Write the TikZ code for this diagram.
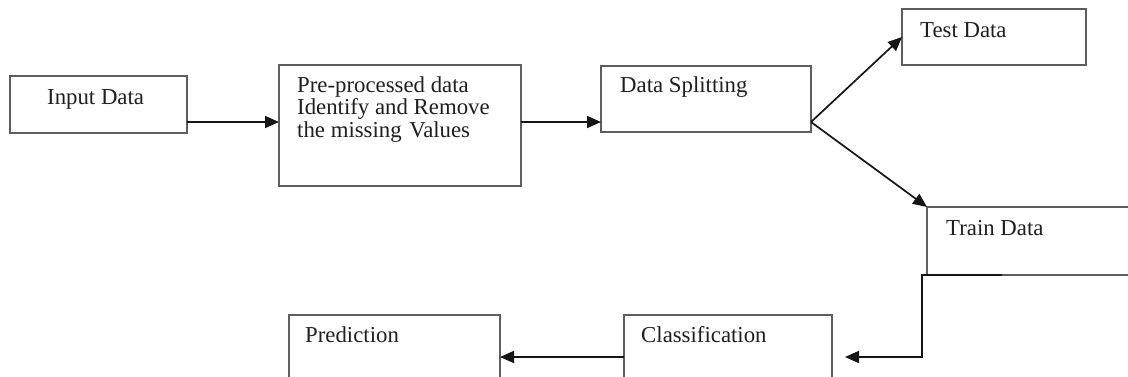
\documentclass[tikz,border=0pt]{standalone}
\usepackage{fontspec}
\setmainfont{Liberation Serif}
\usetikzlibrary{arrows.meta,calc}
\definecolor{boxgray}{HTML}{5E5E5E}
\definecolor{arrowblack}{HTML}{151515}
\begin{document}
\begin{tikzpicture}[x=1pt,y=-1pt,
  box/.style={draw=boxgray, line width=1.4pt, rectangle, inner sep=0pt, outer sep=0pt, anchor=north west},
  txt/.style={inner sep=0pt, font=\fontsize{22.8}{22.6}\selectfont, align=left, text=black!88},
  arr/.style={draw=arrowblack, line width=1.7pt, -{Triangle[length=14pt,width=12pt]}}]
\useasboundingbox (0,0) rectangle (1128,376);
\fill[white] (0,0) rectangle (1128,376);
\clip (0,0) rectangle (1128,376);
% boxes
\node[box, minimum width=177pt, minimum height=57pt] (input) at (10,76) {};
\node[box, minimum width=242pt, minimum height=121pt] (pre) at (279,65) {};
\node[box, minimum width=210pt, minimum height=66pt] (ds) at (601,66) {};
\node[box, minimum width=184pt, minimum height=56pt] (test) at (902,9) {};
\node[box, minimum width=230pt, minimum height=68pt] (train) at (927,207) {};
\node[box, minimum width=208pt, minimum height=80pt] (cls) at (624,315) {};
\node[box, minimum width=211pt, minimum height=80pt] (pred) at (289,315) {};
% texts
\node[txt, anchor=base west] (inputT) at (47,104) {Input Data};
\node[txt, anchor=north west] (preT) at (297,76) {Pre-processed data\\Identify and Remove\\the missing\,\,Values};
\node[txt, anchor=base west] (dsT) at (620,92) {Data Splitting};
\node[txt, anchor=base west] (testT) at (920,37) {Test Data};
\node[txt, anchor=base west] (trainT) at (946,235) {Train Data};
\node[txt, anchor=base west] (clsT) at (641,342) {Classification};
\node[txt, anchor=base west] (predT) at (305,342) {Prediction};
% connectors
\coordinate (a1) at ($(input.south east)+(0,-11)$);
\coordinate (split) at (a1 -| ds.east);
\draw[arr] (a1) -- (a1 -| pre.west);
\draw[arr] (a1 -| pre.east) -- (a1 -| ds.west);
\draw[arr] (split) -- (test.west);
\draw[arr] (split) -- (train.north west);
\coordinate (tstart) at ($(train.south west)+(75,0)$);
\coordinate (tcorner) at ($(train.south west)+(-5,0)$);
\coordinate (ctip) at ($(cls.east)+(13,2)$);
\draw[arr] (tstart) -- (tcorner) |- (ctip);
\coordinate (cout) at ($(cls.west)+(0,2)$);
\draw[arr] (cout) -- (cout -| pred.east);
\end{tikzpicture}
\end{document}
